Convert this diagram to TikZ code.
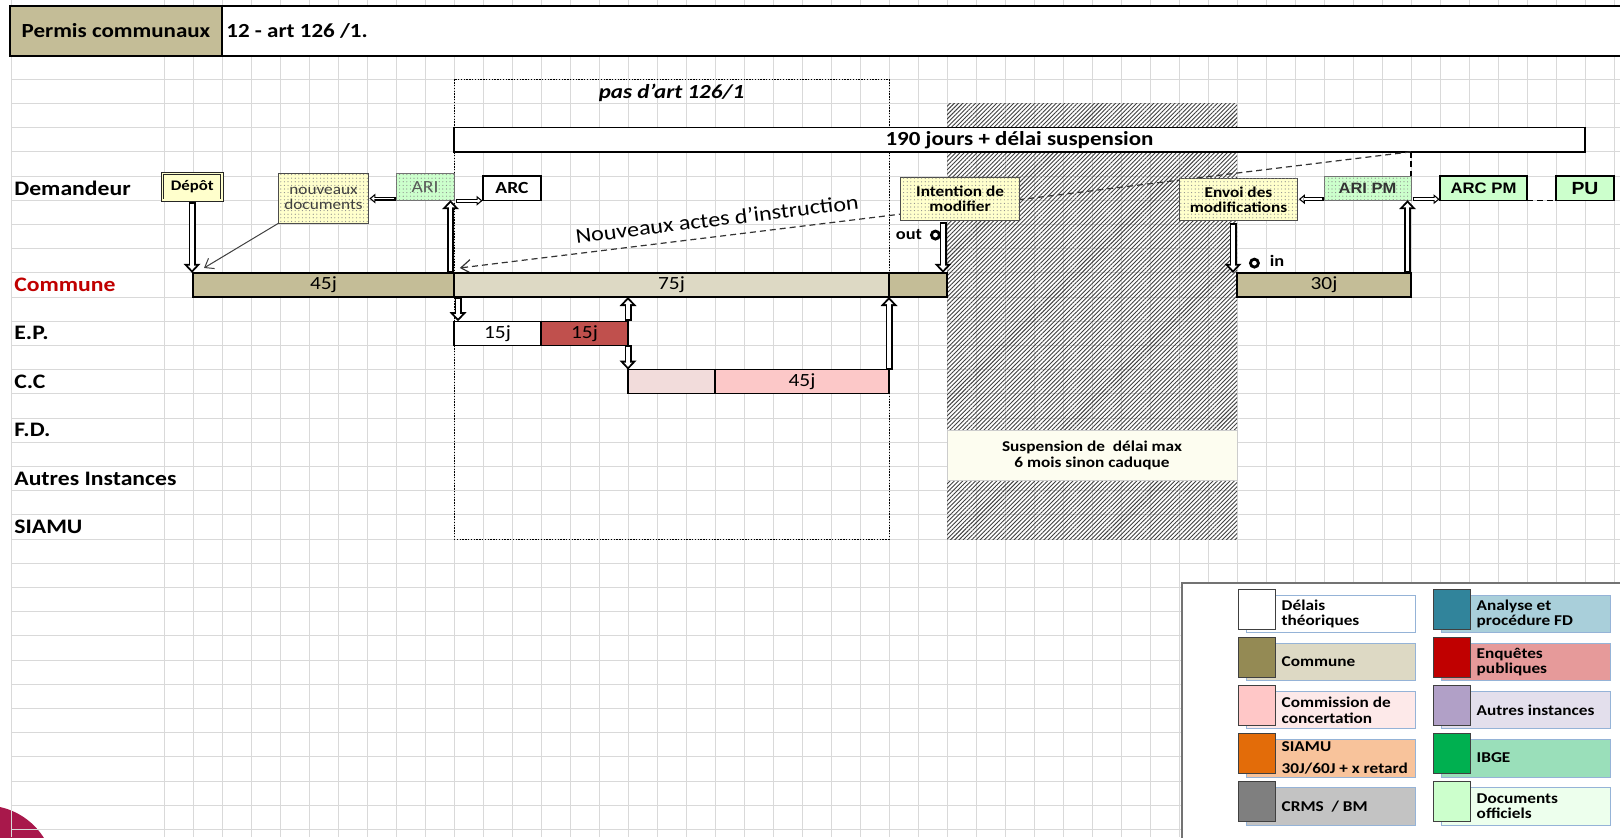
\documentclass[tikz,border=0pt]{standalone}
\usepackage{fontspec}
\setmainfont{Carlito}[FakeStretch=1.15]
\newfontfamily\arialfont{Liberation Sans}[FakeStretch=1.1]
\usetikzlibrary{arrows.meta,patterns.meta}

\definecolor{ctan}{HTML}{C4BD97}
\definecolor{cltan}{HTML}{DDD9C4}
\definecolor{cepred}{HTML}{C0504D}
\definecolor{cccpale}{HTML}{F2DCDB}
\definecolor{cccpink}{HTML}{FCC8C8}
\definecolor{cylw}{HTML}{FFFFCC}
\definecolor{cgrn}{HTML}{CCFFCC}
\definecolor{ccomred}{HTML}{C00000}
\definecolor{cgrid}{HTML}{D9D9D9}
\definecolor{civory}{HTML}{FDFDF0}
\definecolor{cmaroon}{HTML}{A8184B}
\definecolor{clgbord}{HTML}{95B3D7}
\definecolor{lgAsq}{HTML}{FFFFFF}\definecolor{lgArc}{HTML}{FFFFFF}
\definecolor{lgBsq}{HTML}{948A54}\definecolor{lgBrc}{HTML}{DDD9C4}
\definecolor{lgCsq}{HTML}{FFC7C7}\definecolor{lgCrc}{HTML}{FDE9E9}
\definecolor{lgDsq}{HTML}{E36C09}\definecolor{lgDrc}{HTML}{F8C39B}
\definecolor{lgEsq}{HTML}{7F7F7F}\definecolor{lgErc}{HTML}{C3C3C3}
\definecolor{lgFsq}{HTML}{31849B}\definecolor{lgFrc}{HTML}{A9CFDA}
\definecolor{lgGsq}{HTML}{C00000}\definecolor{lgGrc}{HTML}{E69A9A}
\definecolor{lgHsq}{HTML}{B1A0C7}\definecolor{lgHrc}{HTML}{E3DFEC}
\definecolor{lgIsq}{HTML}{00B050}\definecolor{lgIrc}{HTML}{9ADFBA}
\definecolor{lgJsq}{HTML}{CCFFCC}\definecolor{lgJrc}{HTML}{EDFFED}

\newcommand\abox[7][]{\node[outer sep=0pt,inner sep=0pt,
  minimum width={((#5)-(#3))*0.5pt},minimum height={((#6)-(#4))*0.5pt},#1]
  (#2) at ({((#3)+(#5))/2},{((#4)+(#6))/2}) {#7};}
\newcommand\gbox[7][]{\abox[#1]{#2}{cx(#3)}{ry(#4)}{cx(#5)}{ry(#6)}{#7}}
\newcommand\fatarr[2]{\draw[fato] (#1) -- (#2);\draw[fati] (#1) -- (#2);}
\newcommand\smarr[2]{\draw[smo] (#1) -- (#2);\draw[smi] (#1) -- (#2);}
\newcommand\legent[6]{%
  \abox[draw=clgbord,fill=#5,line width=0.5pt]{#1r}{#2+8.4}{#3+5.7}{#2+176.7}{#3+43.4}{}
  \abox[draw=black!75,fill=#4,line width=0.5pt]{#1s}{#2}{#3}{#2+36.7}{#3+40}{}
  \node[legtxt] (#1t) at ({#2+43},{#3+24.5}) {#6};}

\begin{document}
\begin{tikzpicture}[x=0.5pt,y=-0.5pt,
  declare function={cx(\k)=164+29*\k; ry(\k)=55+24.2*\k;},
  gridl/.style={draw=cgrid,line width=0.5pt},
  fato/.style={line width=3.5pt,-{Triangle[length=4.5pt,width=8.5pt,line width=0pt]}},
  fati/.style={line width=1.6pt,white,shorten >=1.38pt,shorten <=0.95pt,-{Triangle[length=2.17pt,width=4.1pt,line width=0pt]}},
  smo/.style={line width=2pt,-{Triangle[length=3pt,width=5pt,line width=0pt]}},
  smi/.style={line width=0.8pt,white,shorten >=0.94pt,shorten <=0.6pt,-{Triangle[length=1.46pt,width=2.43pt,line width=0pt]}},
  rowlbl/.style={anchor=west,inner sep=0pt,font=\fontsize{10.3}{12}\selectfont\bfseries},
  barb/.style={draw=black,line width=0.9pt,font=\fontsize{9.3}{10}\selectfont},
  dotfill/.style={postaction={pattern={Dots[distance=1.8pt,radius=0.3pt]},pattern color=black!45}},
  yelbox/.style={fill=cylw,draw=black!70,line width=0.5pt,dotfill,align=center},
  grnbox/.style={fill=cgrn,draw=black!55,line width=0.5pt,dotfill,align=center},
  legtxt/.style={anchor=west,inner sep=0pt,align=left,font=\fontsize{7.5}{7.8}\selectfont\bfseries},
  ringc/.style={circle,draw,line width=1.4pt,fill=white,minimum size=4pt,inner sep=0pt},
  longdash/.style={draw=black!80,line width=0.6pt,dash pattern=on 3pt off 2pt,-{Straight Barb[length=5pt,width=7pt]}}
]
\useasboundingbox (0,0) rectangle (1620,837);
\clip (0,0) rectangle (1620,837);
\fill[white] (0,0) rectangle (1620,837);

% logo fragment
\fill[cmaroon] (-15,875) circle[radius=34.8pt];

% grid
\draw[gridl] (11,0) -- (11,837);
\foreach \i in {0,...,50} \draw[gridl] ({cx(\i)},0) -- ({cx(\i)},837);
\foreach \i in {0,...,32} \draw[gridl] (11,{ry(\i)}) -- (1620,{ry(\i)});

% header
\abox[draw=black,line width=1pt,fill=white]{hdr}{10}{6}{1640}{55.5}{}
\abox[draw=black,line width=1pt,fill=ctan,font=\fontsize{10}{12}\selectfont\bfseries]{hdrl}{10}{6}{222}{55.5}{Permis communaux}
\node[anchor=west,inner sep=0pt,font=\fontsize{10}{12}\selectfont\bfseries] (hdrt) at (226,31) {12 - art 126 /1.};

% dotted frame
\gbox[draw,line width=0.5pt,dash pattern=on 0.7pt off 0.7pt]{pas}{10}{1}{25}{20}{}
\node[font=\fontsize{10}{12}\selectfont\bfseries\itshape,inner sep=0pt] (pastxt) at ({cx(17.5)},{ry(1.55)}) {pas d'art 126/1};

% hatched suspension
\gbox[pattern={Lines[angle=45,distance=1.5pt,line width=0.45pt]},pattern color=black!75]{hatch}{27}{2}{37}{20}{}

% 190 bar
\gbox[draw,line width=0.8pt,fill=white,font=\fontsize{10}{12}\selectfont\bfseries]{b190}{10}{3}{49}{4}{190 jours + délai suspension}

% dashed lines
\coordinate (dS) at ({cx(43)},{ry(4)});
\coordinate (dE) at ({cx(10.2)},{ry(8.8)});
\coordinate (dV) at ({cx(43)},{ry(5)});
\draw[longdash] (dS) -- (dE);
\draw[line width=1.2pt,dash pattern=on 3pt off 1.8pt] (dS) -- (dV);
\node[rotate=7,inner sep=0pt,font=\fontsize{10.5}{12}\selectfont] (nai) at (717,219) {Nouveaux actes d'instruction};

% Demandeur row boxes
\gbox[draw=black!85,line width=0.45pt,double=cylw,double distance=0.8pt,fill=cylw,font=\fontsize{7.3}{8}\selectfont\bfseries]{depot}{-0.05}{4.9}{2}{6}{Dépôt}
\gbox[yelbox,text=black!75,font=\fontsize{7.5}{7.8}\selectfont]{nd}{3.95}{4.9}{7.05}{6.95}{nouveaux\\documents}
\gbox[grnbox,text=black!65,font=\fontsize{8.5}{10}\selectfont]{ari}{8}{4.9}{10}{6}{ARI}
\gbox[draw,fill=white,line width=0.6pt,font=\fontsize{8.5}{10}\selectfont\bfseries]{arc}{11}{5}{13}{6}{ARC}
\gbox[yelbox,font=\fontsize{7.5}{7.6}\selectfont\bfseries]{intent}{25.4}{5.05}{29.5}{6.85}{Intention de\\modifier}
\gbox[yelbox,font=\fontsize{7.5}{7.6}\selectfont\bfseries]{envoi}{35}{5.1}{39.1}{6.85}{Envoi des\\modifications}
\gbox[grnbox,text=black!80,font=\arialfont\fontsize{7.5}{9}\selectfont\bfseries]{aripm}{40}{5}{43}{6}{ARI PM}
\gbox[draw,fill=cgrn,line width=0.6pt,font=\arialfont\fontsize{7.6}{9}\selectfont\bfseries]{arcpm}{44}{5}{47}{6}{ARC PM}
\gbox[draw,fill=cgrn,line width=0.6pt,font=\arialfont\fontsize{8.8}{10}\selectfont\bfseries]{pu}{48}{5}{50}{6}{PU}
\draw[line width=0.6pt,dash pattern=on 3pt off 2pt] (arcpm.south east) -- (pu.south west);

% bars
\gbox[barb,fill=ctan]{b45}{1}{9}{10}{10}{45j}
\gbox[barb,fill=cltan]{b75}{10}{9}{25}{10}{75j}
\gbox[barb,fill=ctan]{b2}{25}{9}{27}{10}{}
\gbox[barb,fill=ctan]{b30}{37}{9}{43}{10}{30j}
\gbox[barb,fill=white,line width=0.6pt]{ep1}{10}{11}{13}{12}{15j}
\gbox[barb,fill=cepred,line width=0.6pt]{ep2}{13}{11}{16}{12}{15j}
\gbox[barb,fill=cccpale,line width=0.6pt]{cc1}{16}{13}{19}{14}{}
\gbox[barb,fill=cccpink,line width=0.6pt]{cc2}{19}{13}{25}{14}{45j}

% arrows
\coordinate (a1s) at ({cx(1)-1},{ry(6)+1.5});  \coordinate (a1e) at ({cx(1)-1},{ry(9)});
\coordinate (a2s) at ({cx(10)-3.5},{ry(9)});   \coordinate (a2e) at ({cx(10)-3.5},{ry(6)});
\coordinate (a3s) at ({cx(10)+1.5},{ry(6)+0.5}); \coordinate (a3e) at ({cx(11)-0.5},{ry(6)+0.5});
\coordinate (a4s) at ({cx(10)+4},{ry(10)});    \coordinate (a4e) at ({cx(10)+4},{ry(11)});
\coordinate (a5s) at ({cx(16)},{ry(11)});      \coordinate (a5e) at ({cx(16)},{ry(10)});
\coordinate (a6s) at ({cx(16)},{ry(12)});      \coordinate (a6e) at ({cx(16)},{ry(13)});
\coordinate (a7s) at ({cx(25)},{ry(13)});      \coordinate (a7e) at ({cx(25)},{ry(10)});
\coordinate (a8s) at ({cx(27)-4},{ry(6.85)+1}); \coordinate (a8e) at ({cx(27)-4},{ry(9)});
\coordinate (a9s) at ({cx(37)-4},{ry(6.85)+2}); \coordinate (a9e) at ({cx(37)-4},{ry(9)});
\coordinate (a10s) at ({cx(43)-3.5},{ry(9)});  \coordinate (a10e) at ({cx(43)-3.5},{ry(6)});
\coordinate (a11s) at ({cx(43)+1.5},{ry(6)-1}); \coordinate (a11e) at ({cx(44)-0.5},{ry(6)-1});
\coordinate (a12s) at ({cx(40)-0.5},{ry(6)-1}); \coordinate (a12e) at ({cx(39.1)+1},{ry(6)-1});
\coordinate (a13s) at ({cx(8)-0.5},{ry(5.93)}); \coordinate (a13e) at ({cx(7.05)+1},{ry(5.93)});
\fatarr{a1s}{a1e}
\fatarr{a2s}{a2e}
\smarr{a3s}{a3e}
\fatarr{a4s}{a4e}
\fatarr{a5s}{a5e}
\fatarr{a6s}{a6e}
\fatarr{a7s}{a7e}
\fatarr{a8s}{a8e}
\fatarr{a9s}{a9e}
\fatarr{a10s}{a10e}
\smarr{a11s}{a11e}
\smarr{a12s}{a12e}
\smarr{a13s}{a13e}
\coordinate (ndE) at ({cx(1.38)},{ry(8.8)});
\draw[draw=black!75,line width=0.5pt,-{Straight Barb[length=4pt,width=6pt]}] (nd.south west) -- (ndE);

% out / in
\node[ringc] (outc) at ({cx(26.6)},{ry(7.44)}) {};
\node[anchor=east,inner sep=0pt,font=\fontsize{8}{9}\selectfont\bfseries] (outt) at ({cx(26.6)-13},{ry(7.44)-1}) {out};
\node[ringc] (inc) at ({cx(37.6)},{ry(8.6)}) {};
\node[anchor=west,inner sep=0pt,font=\fontsize{8}{9}\selectfont\bfseries] (intx) at ({cx(37.6)+15},{ry(8.6)-2}) {in};

% suspension note
\gbox[fill=civory,draw=black!20,line width=0.5pt,align=center,font=\fontsize{7.5}{7.8}\selectfont\bfseries]{susp}{27}{15.5}{37}{17.6}{Suspension de\ \ délai max\\6 mois sinon caduque}

% legend
\abox[draw=black!55,line width=1pt,fill=white]{leg}{1181.7}{582.7}{1640}{850}{}
\legent{la}{1238.3}{589.3}{lgAsq}{lgArc}{Délais\\théoriques}
\legent{lb}{1238.3}{637.4}{lgBsq}{lgBrc}{Commune}
\legent{lc}{1238.3}{685.5}{lgCsq}{lgCrc}{Commission de\\concertation}
\legent{ld}{1238.3}{733.6}{lgDsq}{lgDrc}{SIAMU\\[3pt]30J/60J + x retard}
\legent{le}{1238.3}{781.7}{lgEsq}{lgErc}{CRMS\ \ / BM}
\legent{lf}{1433.3}{589.3}{lgFsq}{lgFrc}{Analyse et\\procédure FD}
\legent{lg}{1433.3}{637.4}{lgGsq}{lgGrc}{Enquêtes\\publiques}
\legent{lh}{1433.3}{685.5}{lgHsq}{lgHrc}{Autres instances}
\legent{li}{1433.3}{733.6}{lgIsq}{lgIrc}{IBGE}
\legent{lj}{1433.3}{781.7}{lgJsq}{lgJrc}{Documents\\officiels}

% row labels
\node[rowlbl] (lDem) at (14,{ry(5.5)}) {Demandeur};
\node[rowlbl,text=ccomred] (lCom) at (14,{ry(9.5)}) {Commune};
\node[rowlbl] (lEP) at (14,{ry(11.5)}) {E.P.};
\node[rowlbl] (lCC) at (14,{ry(13.5)}) {C.C};
\node[rowlbl] (lFD) at (14,{ry(15.5)}) {F.D.};
\node[rowlbl] (lAI) at (14,{ry(17.5)}) {Autres Instances};
\node[rowlbl] (lSI) at (14,{ry(19.5)}) {SIAMU};
\end{tikzpicture}
\end{document}
